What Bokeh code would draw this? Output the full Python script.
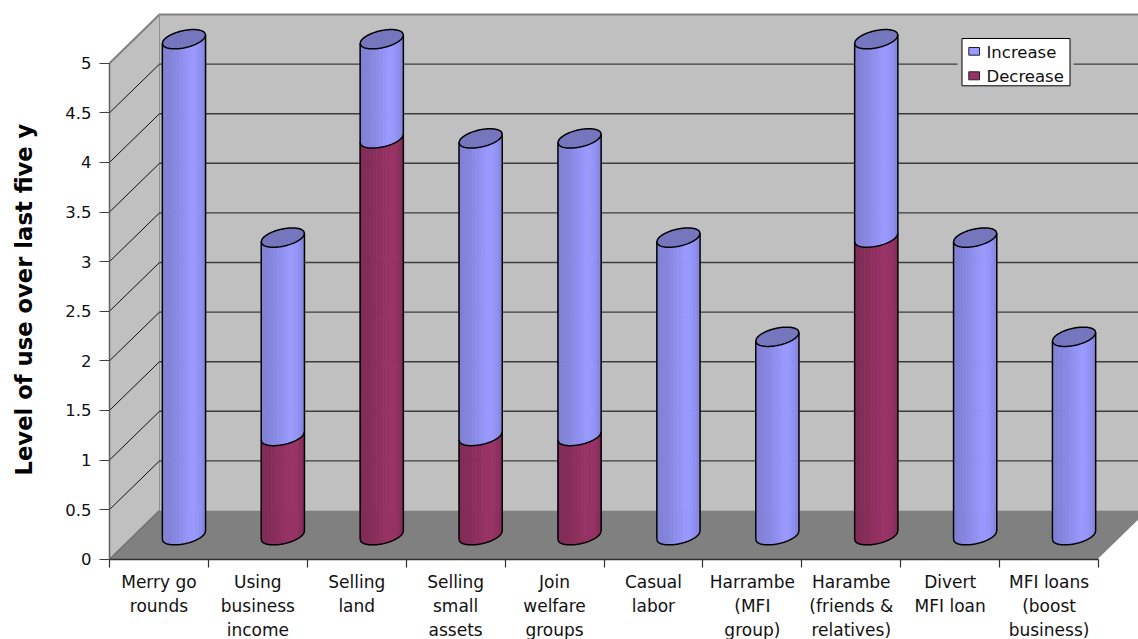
import numpy as np
from bokeh.core.properties import value
from bokeh.embed import file_html
from bokeh.models import FixedTicker, LinearAxis, Range1d
from bokeh.plotting import figure
from bokeh.resources import INLINE

categories = [
    "Merry go\nrounds", "Using\nbusiness\nincome", "Selling\nland", "Selling\nsmall\nassets",
    "Join\nwelfare\ngroups", "Casual\nlabor", "Harrambe\n(MFI\ngroup)",
    "Harambe\n(friends &\nrelatives)", "Divert\nMFI loan", "MFI loans\n(boost\nbusiness)",
]
decrease = [0, 1, 4, 1, 1, 0, 0, 3, 0, 0]
increase = [5, 2, 1, 3, 3, 3, 2, 2, 3, 2]
y_ticks = [0, 0.5, 1, 1.5, 2, 2.5, 3, 3.5, 4, 4.5, 5]
legend_labels = ["Increase", "Decrease"]

BLUE = (0x99, 0x99, 0xFF)
PURPLE = (0x99, 0x33, 0x66)
FONT = "DejaVu Sans"

# Pixel scale of the projected chart box
W, H = 1138, 639
LEFT, RIGHT, BASE = 109, 1098, 558.7
UX = (RIGHT - LEFT) / len(categories)
UY = 99.2
DEPTH_X, DEPTH_Y = 50, 48.7


def dx(px):
    return px / UX


def dy(px):
    return px / UY


def page_x(px):
    return dx(px - LEFT)


def page_y(px):
    return dy(BASE - px)


p = figure(
    width=W, height=H, output_backend="svg", toolbar_location=None, min_border=0,
    x_range=Range1d(-LEFT / UX, (W - LEFT) / UX),
    y_range=Range1d((BASE - H) / UY, BASE / UY),
    x_axis_location=None, y_axis_location=None,
)
p.outline_line_color = None
p.grid.visible = False
p.background_fill_color = "white"
p.border_fill_color = "white"

n = len(categories)
top_v = y_ticks[-1]
ox, oy = dx(DEPTH_X), dy(DEPTH_Y)

# Back and side walls
p.patch([ox, n + ox, n + ox, ox], [oy, oy, top_v + oy, top_v + oy], fill_color="#C0C0C0", line_color=None)
p.patch([0, ox, ox, 0], [0, oy, top_v + oy, top_v], fill_color="#C0C0C0", line_color=None)

# Floor, with its white outer edge
p.patch([0, ox, n + ox, n], [0, oy, oy, 0], fill_color="#808080", line_color=None)
p.line([n, n + ox], [0, oy], line_color="white", line_width=1.5)

p.line([0, ox, n + ox], [top_v, top_v + oy, top_v + oy], line_color="#808080", line_width=2)
p.line([ox, ox], [oy, top_v + oy], line_color="#909090", line_width=1)
p.line([0, ox], [0, oy], line_color="#707070", line_width=1.5)

# Gridlines: across the back wall and down the side wall
for v in y_ticks[1:-1]:
    p.line([ox, n + ox], [v + oy, v + oy], line_color="#3c3c3c", line_width=1.4)
    p.line([0, ox], [v, v + oy], line_color="#111111", line_width=1)

# Cylinder geometry
RADIUS = 21.6
MINOR = 8.7
TILT = 4.2
LIFT = 24.0
CENTER_SHIFT = DEPTH_X / 2
EDGE = 1.5
SHADE = [0.84, 0.85, 0.865, 0.88, 0.90, 0.925, 0.95, 0.975, 1.0, 1.0, 0.98, 0.94, 0.89]


def lower_edge(cx, level, u):
    """Front rim of a cylinder slice, u running from -1 to 1 across its width."""
    rim = MINOR * np.sqrt(np.clip(1 - u ** 2, 0, 1)) - TILT * u
    return cx + dx(RADIUS) * u, level + dy(LIFT - rim)


def shade(rgb, k):
    return "#%02x%02x%02x" % tuple(int(round(c * k)) for c in rgb)


def draw_segment(cx, v0, v1, rgb):
    edges = np.linspace(-1, 1, len(SHADE) + 1)
    xs, ys, colors = [], [], []
    for i, k in enumerate(SHADE):
        u = np.linspace(edges[i], edges[i + 1], 5)
        xb, yb = lower_edge(cx, v0, u)
        xt, yt = lower_edge(cx, v1, u)
        xs.append(list(xb) + list(xt[::-1]))
        ys.append(list(yb) + list(yt[::-1]))
        colors.append(shade(rgb, k))
    p.patches(xs, ys, fill_color=colors, line_color=colors, line_width=0.6)


u_all = np.linspace(-1, 1, 61)
for i in range(n):
    cx = i + 0.5 + dx(CENTER_SHIFT)
    d, inc = decrease[i], increase[i]
    total = d + inc
    if d:
        draw_segment(cx, 0, d, PURPLE)
    draw_segment(cx, d, total, BLUE)

    # Outline, base rim and side edges
    xb, yb = lower_edge(cx, 0, u_all)
    xt, yt = lower_edge(cx, total, u_all)
    p.line(list(xb), list(yb), line_color="black", line_width=EDGE)
    p.line([xb[0], xt[0]], [yb[0], yt[0]], line_color="black", line_width=EDGE)
    p.line([xb[-1], xt[-1]], [yb[-1], yt[-1]], line_color="black", line_width=EDGE)
    if d:
        xm, ym = lower_edge(cx, d, u_all)
        p.line(list(xm), list(ym), line_color="black", line_width=EDGE)

    # Cap: the front rim plus its mirrored back rim
    rim_back = total + dy(LIFT + MINOR * np.sqrt(np.clip(1 - u_all ** 2, 0, 1)) + TILT * u_all)
    cap_x = list(xt) + list(xt[::-1])
    cap_y = list(yt) + list(rim_back[::-1])
    p.patch(cap_x, cap_y, fill_color="#7676BF", line_color="black", line_width=EDGE)

# Value axis on the front left edge
y_axis = LinearAxis(
    fixed_location=0, ticker=FixedTicker(ticks=y_ticks), bounds=(0, top_v),
    axis_line_color="#606060", axis_line_width=1.5,
    major_tick_line_color="#404040", major_tick_line_width=1.2,
    major_tick_in=0, major_tick_out=10, minor_tick_line_color=None,
    major_label_standoff=8, major_label_text_font=FONT,
    major_label_text_font_size="16.5px", major_label_text_color="#111111",
)
p.add_layout(y_axis, "left")

# Category axis: one axis for the ticks at slot boundaries, one for the centred labels
boundary_ticks = list(range(n + 1))
boundary_axis = LinearAxis(
    fixed_location=0, ticker=FixedTicker(ticks=boundary_ticks), bounds=(0, n),
    axis_line_color="#303030", axis_line_width=1.5,
    major_tick_line_color="#303030", major_tick_line_width=1.2,
    major_tick_in=0, major_tick_out=8, minor_tick_line_color=None,
    major_label_overrides={t: "" for t in boundary_ticks},
)
p.add_layout(boundary_axis, "below")

label_ticks = [i + 0.5 for i in range(n)]
label_axis = LinearAxis(
    fixed_location=0, ticker=FixedTicker(ticks=label_ticks),
    major_label_overrides=dict(zip(label_ticks, categories)),
    axis_line_color=None, major_tick_line_color=None, minor_tick_line_color=None,
    major_tick_in=0, major_tick_out=0,
    major_label_standoff=13, major_label_text_font=FONT,
    major_label_text_font_size="17px", major_label_text_color="#111111",
)
p.add_layout(label_axis, "below")

# Axis title, its last letter cut off by a white band
p.text(
    [page_x(23)], [page_y(475)],
    text=["Level of use over last five y"], angle=np.pi / 2,
    text_font=value(FONT), text_font_style="bold",
    text_font_size="22.7px", text_color="black",
    text_align="left", text_baseline="middle",
)
p.quad(left=[page_x(0)], right=[page_x(45)], bottom=[page_y(118)], top=[page_y(60)],
       fill_color="white", line_color=None)

# Legend box with its swatches and labels
p.quad(left=[page_x(957)], right=[page_x(1073)], bottom=[page_y(85.5)], top=[page_y(38)],
       fill_color="#C0C0C0", line_color=None)
p.quad(left=[page_x(961.5)], right=[page_x(1069.5)], bottom=[page_y(85.3)], top=[page_y(38)],
       fill_color="white", line_color="black", line_width=1)
p.quad(left=[page_x(968.3)] * 2, right=[page_x(979)] * 2,
       bottom=[page_y(54.7), page_y(79.3)], top=[page_y(47), page_y(71.3)],
       fill_color=[shade(BLUE, 1), shade(PURPLE, 1)], line_color="#222222", line_width=1)
p.text(
    [page_x(986)] * 2, [page_y(52), page_y(76)], text=legend_labels,
    text_font=value(FONT), text_font_size="16.5px", text_color="#111111",
    text_align="left", text_baseline="middle",
)

open("out.html", "w").write(file_html(p, INLINE))
